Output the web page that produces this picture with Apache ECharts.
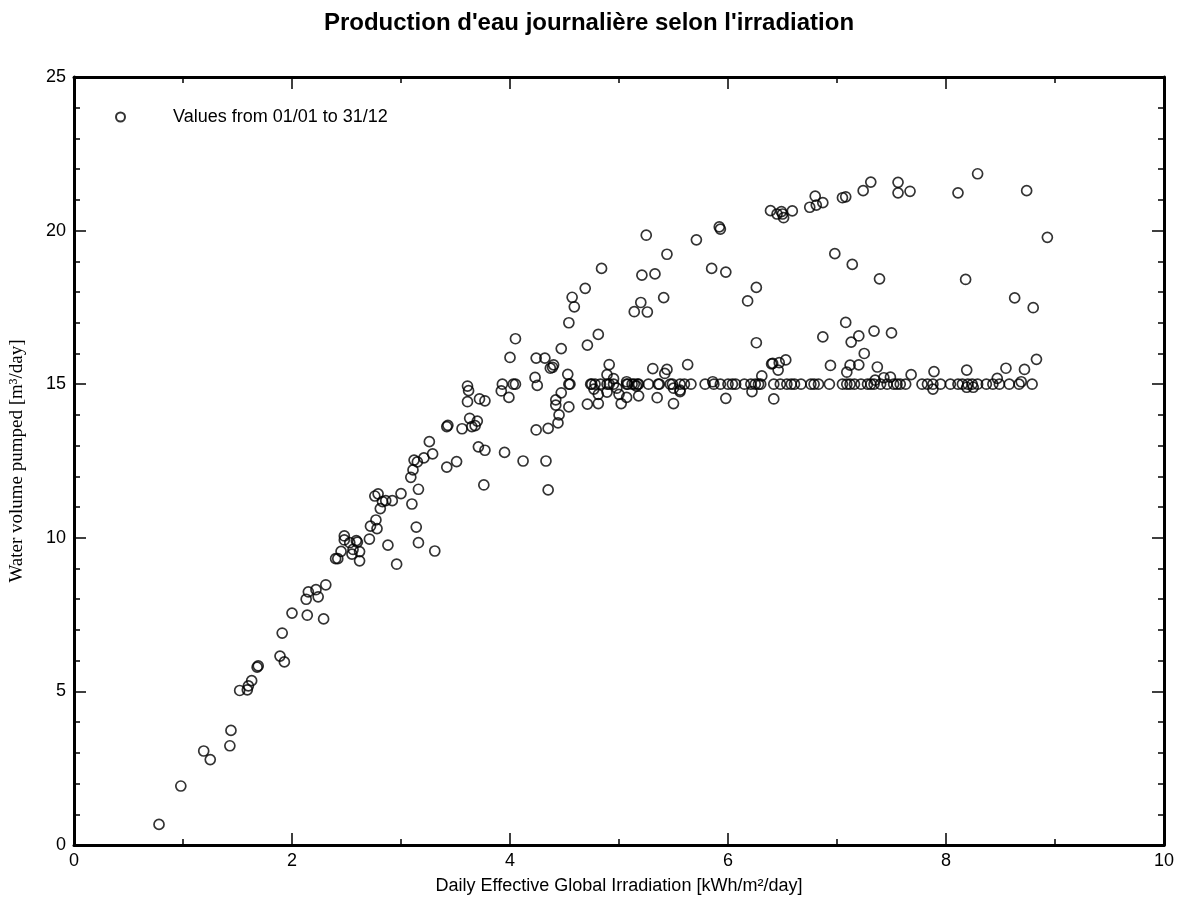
<!DOCTYPE html>
<html>
<head>
<meta charset="utf-8">
<script src="https://cdn.jsdelivr.net/npm/echarts@6/dist/echarts.min.js"></script>
<style>
html,body{margin:0;padding:0;background:#fff;}
#chart{width:1178px;height:905px;}
</style>
</head>
<body>
<div id="chart"></div>
<script>
// ---- Data ----
const chartTitle = "Production d'eau journalière selon l'irradiation";
const seriesName = "Values from 01/01 to 31/12";
const xAxisName = "Daily Effective Global Irradiation [kWh/m²/day]";
const yAxisName = "Water volume pumped [m³/day]";

// Scattered days (irradiation kWh/m²/day, water m³/day)
const irradiation = [
  0.78,0.98,1.19,1.25,1.44,1.43,1.52,1.59,1.60,1.63,1.68,1.69,1.89,1.93,1.91,2.00,2.14,2.29,2.13,2.15,
  2.22,2.24,2.31,2.40,2.42,2.45,2.48,2.48,2.53,2.55,2.56,2.59,2.60,2.62,2.62,2.71,2.72,2.77,2.78,2.76,
  2.79,2.81,2.83,2.86,2.92,2.88,2.96,3.00,3.10,3.14,3.16,3.16,3.31,3.09,3.11,3.12,3.15,3.21,3.29,3.26,
  3.42,3.51,3.42,3.43,3.56,3.63,3.65,3.70,3.68,3.61,3.62,3.61,3.72,3.77,3.71,3.77,3.76,3.95,4.12,4.33,
  4.35,3.92,3.99,4.00,4.05,4.24,4.32,4.23,4.25,4.37,4.40,4.39,4.24,4.35,4.44,4.45,4.42,4.42,4.47,4.54,
  4.53,4.47,4.54,4.57,4.59,4.69,4.71,4.81,4.84,4.71,4.81,4.77,4.81,4.91,4.89,4.95,4.89,4.98,5.00,5.02,
  5.07,5.07,5.18,5.16,5.31,5.35,5.42,5.44,5.50,5.50,5.56,5.56,5.63,5.86,5.98,5.14,5.20,5.26,5.41,5.21,
  5.33,5.25,5.44,5.71,5.85,5.98,5.92,5.93,6.18,6.26,6.26,6.22,6.31,6.40,6.42,6.39,6.45,6.49,6.51,6.50,
  6.59,6.75,6.80,6.81,6.87,7.05,7.08,7.24,7.31,7.56,7.56,7.67,8.11,8.29,8.74,8.93,6.98,7.14,7.39,8.18,
  8.63,8.80,7.08,7.34,7.50,7.20,6.87,7.13,7.25,6.53,6.41,6.47,6.46,6.94,7.12,7.20,7.09,7.37,7.68,7.89,
  8.19,7.43,7.49,7.35,8.83,8.72,8.55,8.47,7.88,8.19,8.25,8.69
];
const waterVolume = [
  0.67,1.92,3.06,2.78,3.73,3.23,5.03,5.05,5.18,5.35,5.79,5.83,6.15,5.96,6.90,7.55,7.48,7.36,8.00,8.24,
  8.31,8.08,8.47,9.32,9.32,9.56,10.06,9.93,9.84,9.47,9.62,9.91,9.86,9.55,9.25,9.96,10.38,10.58,10.30,11.36,
  11.43,10.95,11.18,11.21,11.21,9.76,9.14,11.44,11.10,10.35,9.84,11.58,9.57,11.97,12.21,12.53,12.47,12.60,12.73,13.13,
  12.30,12.48,13.62,13.66,13.55,13.89,13.62,13.80,13.65,14.94,14.79,14.43,14.52,14.46,12.96,12.85,11.72,12.78,12.50,12.50,
  11.56,14.78,14.57,15.87,16.48,15.85,15.85,15.22,14.96,15.52,15.63,15.55,13.51,13.56,13.74,14.00,14.32,14.49,14.72,14.26,
  15.32,16.16,17.00,17.83,17.52,18.12,16.27,16.62,18.77,14.35,14.37,14.84,14.67,15.64,15.31,15.18,14.74,14.87,14.67,14.37,
  14.57,15.08,14.62,14.94,15.51,14.56,15.35,15.48,14.87,14.37,14.81,14.76,15.64,15.08,14.54,17.36,17.66,17.35,17.82,18.55,
  18.59,19.85,19.23,19.70,18.77,18.65,20.12,20.05,17.71,18.15,16.35,14.76,15.27,15.66,14.52,20.65,20.54,20.62,20.42,20.54,
  20.64,20.76,21.12,20.83,20.91,21.07,21.10,21.30,21.58,21.57,21.23,21.28,21.23,21.85,21.30,19.78,19.25,18.90,18.43,18.41,
  17.81,17.49,17.01,16.73,16.67,16.57,16.54,16.37,16.00,15.79,15.68,15.70,15.46,15.61,15.62,15.63,15.39,15.56,15.31,15.41,
  15.46,15.21,15.23,15.13,15.81,15.48,15.52,15.19,14.84,14.90,14.90,15.08
];

// Days capped at the 15 m³/day demand (irradiation values)
const cappedIrradiation = [
  3.93,4.03,4.05,4.54,4.55,4.74,4.75,4.78,4.83,4.89,4.91,4.95,5.07,5.08,5.12,5.14,5.17,5.18,5.27,5.36,
  5.37,5.47,5.49,5.56,5.60,5.66,5.79,5.87,5.93,6.00,6.04,6.07,6.15,6.21,6.25,6.28,6.30,6.42,6.48,6.54,
  6.58,6.61,6.67,6.76,6.79,6.83,6.93,7.05,7.09,7.12,7.16,7.22,7.28,7.31,7.34,7.40,7.46,7.52,7.55,7.58,
  7.63,7.78,7.83,7.88,7.95,8.04,8.11,8.15,8.20,8.24,8.29,8.37,8.43,8.49,8.58,8.67,8.79
];
const cappedVolume = [
  15,15,15,15,15,15,15,15,15,15,15,15,15,15,15,15,15,15,15,15,
  15,15,15,15,15,15,15,15,15,15,15,15,15,15,15,15,15,15,15,15,
  15,15,15,15,15,15,15,15,15,15,15,15,15,15,15,15,15,15,15,15,
  15,15,15,15,15,15,15,15,15,15,15,15,15,15,15,15,15
];

const xTicks = {min: 0, max: 10, interval: 2};
const yTicks = {min: 0, max: 25, interval: 5};

// ---- Build ----
const points = irradiation.map((x, i) => [x, waterVolume[i]])
  .concat(cappedIrradiation.map((x, i) => [x, cappedVolume[i]]));

const sans = "Liberation Sans, Arial, sans-serif";
const serif = "Liberation Serif, Times New Roman, serif";
const lineStyle = {color: '#000', width: 3};

function xAx(pos, showLabel) {
  return {
    type: 'value', position: pos, min: xTicks.min, max: xTicks.max, interval: xTicks.interval,
    name: showLabel ? xAxisName : '', nameLocation: 'middle', nameGap: 32,
    nameTextStyle: {fontFamily: sans, fontSize: 18, color: '#000'},
    axisLine: {show: true, onZero: false, lineStyle: lineStyle},
    axisTick: {show: true, inside: true, length: 12, lineStyle: {color: '#000', width: 1.5}},
    minorTick: {show: true, splitNumber: 2, length: 6, lineStyle: {color: '#000', width: 1.5}},
    axisLabel: {show: showLabel, fontFamily: sans, fontSize: 18, color: '#000', margin: 7},
    splitLine: {show: false}
  };
}
function yAx(pos, showLabel) {
  return {
    type: 'value', position: pos, min: yTicks.min, max: yTicks.max, interval: yTicks.interval,
    name: showLabel ? yAxisName : '', nameLocation: 'middle', nameGap: 47,
    nameTextStyle: {fontFamily: serif, fontSize: 19, color: '#000'},
    axisLine: {show: true, onZero: false, lineStyle: lineStyle},
    axisTick: {show: true, inside: true, length: 12, lineStyle: {color: '#000', width: 1.5}},
    minorTick: {show: true, splitNumber: 5, length: 6, lineStyle: {color: '#000', width: 1.5}},
    axisLabel: {show: showLabel, fontFamily: sans, fontSize: 18, color: '#000', margin: 8},
    splitLine: {show: false}
  };
}

const chart = echarts.init(document.getElementById('chart'), null, {renderer: 'canvas'});
chart.setOption({
  backgroundColor: '#fff',
  animation: false,
  title: {
    text: chartTitle, left: 'center', top: 6,
    textStyle: {fontFamily: sans, fontSize: 24, fontWeight: 'bold', color: '#000'}
  },
  legend: {
    left: 110, top: 103, itemWidth: 9, itemHeight: 9,
    textStyle: {fontFamily: sans, fontSize: 18, color: '#000', padding: [0, 0, 0, 43]},
    data: [seriesName]
  },
  grid: {left: 74, right: 14, top: 77, bottom: 60, containLabel: false},
  xAxis: [xAx('bottom', true), xAx('top', false)],
  yAxis: [yAx('left', true), yAx('right', false)],
  series: [{
    name: seriesName, type: 'scatter', xAxisIndex: 0, yAxisIndex: 0,
    symbol: 'circle', symbolSize: 10,
    itemStyle: {color: 'rgba(255,255,255,0)', borderColor: '#000', borderWidth: 1.7},
    data: points
  }]
});
</script>
</body>
</html>
